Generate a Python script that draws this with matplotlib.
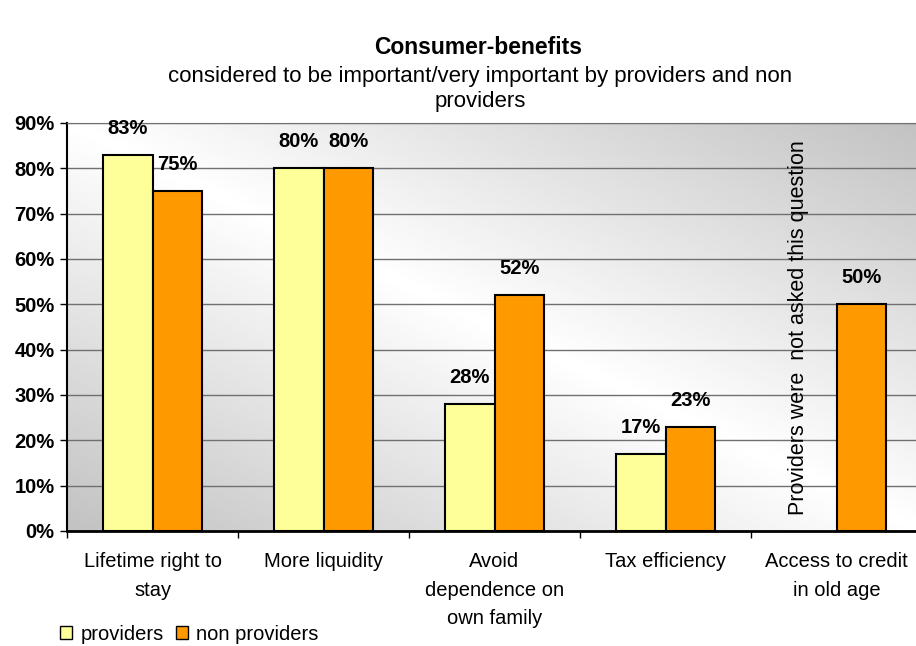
#!/usr/bin/env python3
# plot.py - consumer benefits bar chart

import numpy as np
import matplotlib.pyplot as plt
from matplotlib.patches import Patch

plt.rcParams['font.family'] = ['Liberation Sans', 'DejaVu Sans']

categories = ["Lifetime right to\nstay", "More liquidity", "Avoid\ndependence on\nown family",
              "Tax efficiency", "Access to credit\nin old age"]
providers = [83, 80, 28, 17, None]
non_providers = [75, 80, 52, 23, 50]
series_names = ["providers", "non providers"]
yticks = [0, 10, 20, 30, 40, 50, 60, 70, 80, 90]
note = "Providers were  not asked this question"

yellow = "#FFFF99"
orange = "#FF9900"

fig = plt.figure(figsize=(9.16, 6.46), dpi=100)
ax = fig.add_axes([67 / 916, 115 / 646, 855 / 916, 408 / 646])

# diagonal grey-white-grey background like the excel chart
gx, gy = np.meshgrid(np.linspace(0, 1, 200), np.linspace(0, 1, 200))
t = (gx + gy) / 2
shade = 0.76 + 0.24 * (1 - np.abs(2 * t - 1))
ax.imshow(shade, cmap='gray', vmin=0, vmax=1, extent=(0, 1, 0, 1), origin='lower',
          transform=ax.transAxes, aspect='auto', zorder=0, interpolation='bilinear')

x = np.arange(len(categories))
w = 0.29
for i in x:
    if providers[i] is not None:
        ax.bar(i - w / 2, providers[i], w, color=yellow, edgecolor='black', linewidth=1.5, zorder=3)
        ax.annotate(f"{providers[i]}%", (i - w / 2, providers[i]), xytext=(0, 19),
                    textcoords='offset points', ha='center', va='center',
                    fontsize=14.5, fontweight='bold', zorder=4)
    ax.bar(i + w / 2, non_providers[i], w, color=orange, edgecolor='black', linewidth=1.5, zorder=3)
    ax.annotate(f"{non_providers[i]}%", (i + w / 2, non_providers[i]), xytext=(0, 19),
                textcoords='offset points', ha='center', va='center',
                fontsize=14.5, fontweight='bold', zorder=4)

ax.text(3.775, 44.8, note, rotation=90, ha='center', va='center', fontsize=15.5, zorder=4)

ax.set_xlim(-0.5, len(categories) - 0.5)
ax.set_ylim(0, 90)
ax.set_yticks(yticks)
ax.set_yticklabels([f"{v}%" for v in yticks], fontsize=14.5, fontweight='bold')
ax.yaxis.grid(True, color='#707070', linewidth=1, zorder=1)
ax.set_axisbelow(True)

ax.set_xticks(np.arange(len(categories) + 1) - 0.5, minor=True)
ax.set_xticks(x)
ax.set_xticklabels(categories, fontsize=14.5, linespacing=1.65)
ax.tick_params(axis='x', which='major', length=0, pad=15)
ax.tick_params(axis='x', which='minor', length=5, width=1)
ax.tick_params(axis='y', length=5, width=1, pad=4)

ax.spines['right'].set_visible(False)
ax.spines['top'].set_color('#707070')
ax.spines['left'].set_linewidth(1.5)
ax.spines['bottom'].set_linewidth(2)

fig.text(478 / 916, 1 - 48 / 646, "Consumer-benefits", ha='center', va='center',
         fontsize=16.5, fontweight='bold')
fig.text(480 / 916, 1 - 89 / 646, "considered to be important/very important by providers and non\nproviders",
         ha='center', va='center', fontsize=16, linespacing=1.2)

handles = [Patch(facecolor=yellow, edgecolor='black'), Patch(facecolor=orange, edgecolor='black')]
fig.legend(handles, series_names, loc='center left', bbox_to_anchor=(42 / 916, 1 - 634 / 646),
           ncol=2, frameon=False, fontsize=14.5, handlelength=0.6, handleheight=0.6,
           handletextpad=0.4, columnspacing=0.6)

fig.savefig("out.png", dpi=100)
